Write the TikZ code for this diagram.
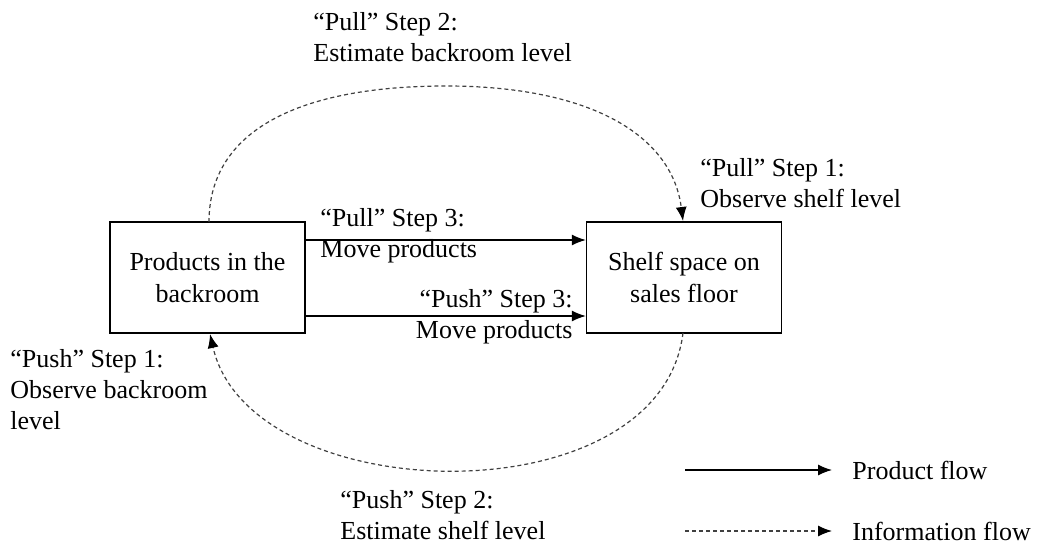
\documentclass[tikz,border=0pt]{standalone}
\usepackage{fontspec}
\setmainfont{Liberation Serif}
\usetikzlibrary{arrows.meta}
\begin{document}
\begin{tikzpicture}[x=0.5pt,y=-0.5pt,
  lbl/.style={inner sep=0pt,align=left,anchor=west,font=\fontsize{13}{15.5}\selectfont},
  boxn/.style={draw,line width=0.7pt,minimum width=97.5pt,minimum height=55.5pt,inner sep=0pt,align=center,font=\fontsize{13}{16}\selectfont},
  prod/.style={line width=0.6pt,-{Latex[length=7pt,width=5.5pt]}},
  info/.style={line width=0.6pt,black!75,dash pattern=on 2pt off 1.5pt,-{Latex[length=7pt,width=5.5pt,black]}}]
\useasboundingbox (0,0) rectangle (1038,547);
\node[boxn] (back) at (207.5,277.5) {Products in the\\backroom};
\node[boxn] (shelf) at (684,277.5) {Shelf space on\\sales floor};
% product flows
\coordinate (pa) at (back.east |- 0,240);
\coordinate (pb) at (shelf.west |- 0,240);
\draw[prod] (pa) -- (pb);
\coordinate (qa) at (back.east |- 0,316);
\coordinate (qb) at (shelf.west |- 0,316);
\draw[prod] (qa) -- (qb);
\node[lbl] (l3a) at (320,236) {``Pull'' Step 3:\\Move products};
\node[lbl,align=right,anchor=east] (l3b) at (573,317) {``Push'' Step 3:\\Move products};
% information flows
\coordinate (ta) at (209,222);
\coordinate (tt) at (446,86);
\coordinate (tb) at (683,221);
\draw[info] (ta) .. controls (209,130) and (300,86) .. (tt)
                 .. controls (590,86) and (672,135) .. (tb);
\coordinate (ba) at (683,333);
\coordinate (bb) at (210,334);
\draw[info] (ba) .. controls (660,520) and (250,510) .. (bb);
\node[lbl] (p2) at (313,37) {``Pull'' Step 2:\\Estimate backroom level};
\node[lbl] (p1) at (700,183) {``Pull'' Step 1:\\Observe shelf level};
\node[lbl] (s1) at (10,390) {``Push'' Step 1:\\Observe backroom\\level};
\node[lbl] (s2) at (340,515) {``Push'' Step 2:\\Estimate shelf level};
% legend
\coordinate (la) at (685,470);
\coordinate (lb) at (832,470);
\draw[prod] (la) -- (lb);
\node[lbl] (lp) at (852,470) {Product flow};
\coordinate (lc) at (685,531);
\coordinate (ld) at (832,531);
\draw[info] (lc) -- (ld);
\node[lbl] (li) at (852,531) {Information flow};
\end{tikzpicture}
\end{document}
